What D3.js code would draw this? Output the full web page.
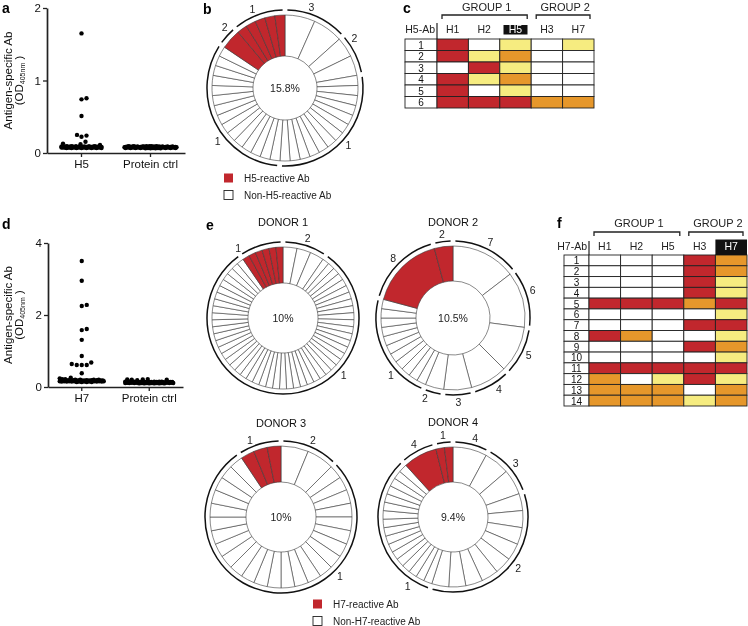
<!DOCTYPE html>
<html><head><meta charset="utf-8">
<script src="https://cdn.jsdelivr.net/npm/d3@7"></script>
<style>
body{margin:0;background:#fff}
svg{display:block;will-change:transform}
text{font-family:"Liberation Sans",Arial,Helvetica,sans-serif;-webkit-font-smoothing:antialiased}
</style>
</head><body>
<svg id="chart" width="748" height="626"></svg>
<script>
// ---------------- DATA ----------------
// panel a: scatter of OD405 values
const panelACats = ["H5", "Protein ctrl"];
const panelAH5 = [1.65, 0.755, 0.74, 0.51, 0.25, 0.24, 0.225, 0.155, 0.13, 0.12, 0.11,
  0.095,0.095,0.095,0.095,0.09,0.09,0.09,0.09,0.09,0.09,0.09,0.09,
  0.085,0.085,0.085,0.085,0.085,0.085,0.085,0.085,0.085,0.085,0.085,0.085,0.085,0.085,
  0.08,0.08,0.08,0.08,0.08,0.08,0.08,0.08,0.08,0.08,0.08,0.08,0.08,0.08,0.08,0.08,
  0.075,0.075,0.075,0.075,0.075,0.075,0.075,0.075,0.075,0.075,0.075,0.075,
  0.07,0.07,0.07,0.07,0.07,0.07,0.07,0.07];
const panelACtrl = [0.095,0.095,0.095,0.095,0.095,0.095,
  0.09,0.09,0.09,0.09,0.09,0.09,0.09,0.09,0.09,0.09,
  0.085,0.085,0.085,0.085,0.085,0.085,0.085,0.085,0.085,0.085,0.085,0.085,0.085,0.085,
  0.08,0.08,0.08,0.08,0.08,0.08,0.08,0.08,0.08,0.08,0.08,0.08,0.08,0.08,0.08,0.08,
  0.075,0.075,0.075,0.075,0.075,0.075,0.075,0.075,0.075,0.075,0.075,0.075,0.075,0.075,
  0.07,0.07,0.07,0.07,0.07,0.07,0.07,0.07,0.07,0.07,0.065,0.065,0.065,0.065];
const panelATicks = [0, 1, 2];

// panel d
const panelDCats = ["H7", "Protein ctrl"];
const panelDH7 = [3.5, 2.95, 2.28, 2.25, 1.61, 1.58, 1.31, 0.86, 0.68, 0.64, 0.61, 0.61, 0.61,
  0.38, 0.26, 0.24, 0.22, 0.22,
  0.20,0.20,0.20,0.20,0.19,0.19,0.19,0.19,0.19,0.19,
  0.18,0.18,0.18,0.18,0.18,0.18,0.18,0.18,0.18,0.18,
  0.17,0.17,0.17,0.17,0.17,0.17,0.17,0.17,0.17,0.17,0.17,0.17,
  0.16,0.16,0.16,0.16,0.16,0.16,0.16,0.16,0.16,0.16,
  0.15,0.15,0.15,0.15,0.15,0.15,0.15,0.15,0.14,0.14,0.14,0.14];
const panelDCtrl = [0.22, 0.21, 0.21, 0.20, 0.20, 0.19,
  0.15,0.15,0.15,0.15,0.15,0.15,0.14,0.14,0.14,0.14,0.14,0.14,0.14,0.14,
  0.13,0.13,0.13,0.13,0.13,0.13,0.13,0.13,0.13,0.13,0.13,0.13,
  0.12,0.12,0.12,0.12,0.12,0.12,0.12,0.12,0.12,0.12,0.12,0.12,
  0.11,0.11,0.11,0.11,0.11,0.11,0.11,0.11,0.11,0.11,
  0.10,0.10,0.10,0.10,0.10,0.10];
const panelDTicks = [0, 2, 4];

// donuts: groups of clones clockwise from 12 o'clock: [clone size, number of clones, reactive]
const donutBGroups  = [[3,2,0],[2,2,0],[1,13,0],[1,15,0],[2,1,1],[1,5,1]];
const donor1Groups  = [[2,3,0],[1,51,0],[1,6,1]];
const donor2Groups  = [[7,1,0],[6,1,0],[5,1,0],[4,1,0],[3,1,0],[2,1,0],[1,11,0],[8,1,1],[2,1,1]];
const donor3Groups  = [[2,2,0],[1,25,0],[1,3,1]];
const donor4Groups  = [[4,1,0],[3,2,0],[2,9,0],[1,17,0],[4,1,1],[1,2,1]];
const donorTitles   = ["DONOR 1", "DONOR 2", "DONOR 3", "DONOR 4"];

// tables: 0 = none, 1 = yellow, 2 = orange, 3 = red
const tableCols   = ["H1", "H2", "H5", "H3", "H7"];
const tableGroups = ["GROUP 1", "GROUP 2"];
const tableCRows  = ["1","2","3","4","5","6"];
const tableCCells = [[3,0,1,0,1],[3,1,2,0,0],[0,3,1,0,0],[3,1,2,0,0],[3,0,1,0,0],[3,3,3,2,2]];
const tableFRows  = ["1","2","3","4","5","6","7","8","9","10","11","12","13","14"];
const tableFCells = [[0,0,0,3,2],[0,0,0,3,2],[0,0,0,3,1],[0,0,0,3,1],[3,3,3,2,3],[0,0,0,0,1],
  [0,0,0,3,3],[3,2,0,0,1],[0,0,0,3,2],[0,0,0,0,1],[3,3,3,3,3],[2,0,1,3,1],[2,2,2,0,2],[2,2,2,1,2]];

// ---------------- STYLE ----------------
const FONT = '"Liberation Sans", Arial, Helvetica, sans-serif';
const RED = "#c1272d", ORANGE = "#e6972b", YELLOW = "#f6ec80";
const cellColors = ["#ffffff", YELLOW, ORANGE, RED];
const svg = d3.select("#chart");

// ---------------- SCATTER ----------------
function swarm(vals, y, cx, r, maxW) {
  const sep = 2 * r + 0.4;
  const order = vals.slice().sort((a, b) => a - b);
  const placed = [];
  order.forEach((v, n) => {
    const py = y(v);
    const minD = x => { let m = Infinity; for (const p of placed) { const d = Math.hypot(p.x - x, p.y - py); if (d < m) m = d; } return m; };
    let px = null;
    const signs = n % 2 ? [1, -1] : [-1, 1];
    for (let k = 0; k <= maxW && px === null; k += 0.5) {
      for (const s of (k === 0 ? [1] : signs)) { const x = cx + s * k; if (minD(x) >= sep) { px = x; break; } }
    }
    if (px === null) {
      let best = -1;
      for (let k = -maxW; k <= maxW; k += 0.5) { const d = minD(cx + k); if (d > best + 1e-9) { best = d; px = cx + k; } }
    }
    placed.push({ x: px, y: py, v });
  });
  return placed;
}

function scatterPanel(cfg) {
  const g = svg.append("g");
  const x = d3.scaleBand().domain(cfg.cats).range([cfg.x0, cfg.x1]).padding(0);
  const y = d3.scaleLinear().domain([0, cfg.ymax]).range([cfg.y0, cfg.y1]);
  const ax = g.append("g").attr("transform", `translate(0,${cfg.y0})`)
    .call(d3.axisBottom(x).tickSize(4).tickSizeOuter(0).tickPadding(3));
  const ay = g.append("g").attr("transform", `translate(${cfg.x0},0)`)
    .call(d3.axisLeft(y).tickValues(cfg.ticks).tickFormat(d3.format("d")).tickSize(4).tickSizeOuter(0).tickPadding(2));
  [ax, ay].forEach(a => {
    a.attr("font-family", FONT).attr("font-size", 11.5);
    a.select(".domain").attr("stroke-width", 1.7).attr("stroke", "#222");
    a.selectAll(".tick line").attr("stroke-width", 1.3).attr("stroke", "#222");
    a.selectAll("text").attr("fill", "#111");
  });
  cfg.series.forEach((vals, i) => {
    const cx = x(cfg.cats[i]) + x.bandwidth() / 2;
    const pts = swarm(vals, y, cx, 2.2, cfg.maxW[i]);
    g.append("g").selectAll("circle").data(pts).join("circle")
      .attr("cx", d => d.x).attr("cy", d => d.y).attr("r", 2.2).attr("fill", "#000");
  });
  const ym = (cfg.y0 + cfg.y1) / 2;
  g.append("text").attr("transform", `translate(8,${ym}) rotate(-90)`)
    .attr("text-anchor", "middle").attr("dominant-baseline", "central")
    .attr("font-size", 11.5).attr("fill", "#111").text("Antigen-specific Ab");
  const t2 = g.append("text").attr("transform", `translate(19,${ym}) rotate(-90)`)
    .attr("text-anchor", "middle").attr("dominant-baseline", "central")
    .attr("font-size", 11.5).attr("fill", "#111");
  t2.append("tspan").text("(OD");
  t2.append("tspan").attr("font-size", 7).attr("dy", 2.5).text("405nm");
  t2.append("tspan").attr("dy", -2.5).text(" )");
}

scatterPanel({ cats: panelACats, series: [panelAH5, panelACtrl], ticks: panelATicks, ymax: 2,
  x0: 47, x1: 185, y0: 153, y1: 8, maxW: [20, 26] });
scatterPanel({ cats: panelDCats, series: [panelDH7, panelDCtrl], ticks: panelDTicks, ymax: 4,
  x0: 48, x1: 183, y0: 387, y1: 243, maxW: [22, 24] });

// ---------------- DONUTS ----------------
function donut(cfg) {
  const g = svg.append("g").attr("transform", `translate(${cfg.cx},${cfg.cy})`);
  const clones = [];
  cfg.groups.forEach((gr, gi) => { for (let k = 0; k < gr[1]; k++) clones.push({ size: gr[0], reactive: gr[2], group: gi }); });
  const pie = d3.pie().value(d => d.size).sort(null).padAngle(0);
  const arcs = pie(clones);
  const arcGen = d3.arc().innerRadius(cfg.ri).outerRadius(cfg.ro);
  g.append("g").selectAll("path").data(arcs).join("path")
    .attr("d", arcGen)
    .attr("fill", d => d.data.reactive ? RED : "#fff")
    .attr("stroke", "#3a3a3a").attr("stroke-width", 0.6);
  const half = 2.4 / cfg.ra;
  cfg.groups.forEach((gr, gi) => {
    const mine = arcs.filter(a => a.data.group === gi);
    const a0 = d3.min(mine, a => a.startAngle), a1 = d3.max(mine, a => a.endAngle);
    const p = d3.path();
    p.arc(0, 0, cfg.ra, a0 + half - Math.PI / 2, a1 - half - Math.PI / 2);
    g.append("path").attr("d", p.toString()).attr("fill", "none").attr("stroke", "#111").attr("stroke-width", 1.5);
    const f = cfg.labelFrac ? cfg.labelFrac[gi] : 0.5;
    const am = a0 + f * (a1 - a0);
    const rl = cfg.ra + 7.5;
    g.append("text").attr("x", rl * Math.sin(am)).attr("y", -rl * Math.cos(am))
      .attr("text-anchor", "middle").attr("dominant-baseline", "central")
      .attr("font-size", 10.5).attr("fill", "#222").text(gr[0]);
  });
  const tot = d3.sum(cfg.groups, d => d[1]);
  const rea = d3.sum(cfg.groups.filter(d => d[2]), d => d[1]);
  const pct = d3.format(".1f")(100 * rea / tot).replace(/\.0$/, "") + "%";
  g.append("text").attr("x", 0).attr("y", 0).attr("text-anchor", "middle").attr("dominant-baseline", "central")
    .attr("font-size", 10.5).attr("fill", "#222").text(pct);
  if (cfg.title) {
    g.append("text").attr("x", 0).attr("y", cfg.titleY).attr("text-anchor", "middle")
      .attr("font-size", 11).attr("fill", "#111").text(cfg.title);
  }
}

donut({ groups: donutBGroups, cx: 285, cy: 88, ri: 32, ro: 73, ra: 78, labelFrac: [.375, .2, .5, .4, .7, .44] });
donut({ groups: donor1Groups, cx: 283, cy: 318, ri: 35, ro: 71, ra: 76, labelFrac: [.5, .34, .05], title: donorTitles[0], titleY: -92 });
donut({ groups: donor2Groups, cx: 453, cy: 318, ri: 37, ro: 72, ra: 77, labelFrac: [.5, .4, .5, .4, .5, .8, .3, .5, .5], title: donorTitles[1], titleY: -92 });
donut({ groups: donor3Groups, cx: 281, cy: 517, ri: 35, ro: 71, ra: 76, labelFrac: [.5, .32, .35], title: donorTitles[2], titleY: -90 });
donut({ groups: donor4Groups, cx: 453, cy: 517, ri: 35, ro: 70, ra: 75, labelFrac: [.55, .5, .45, .13, .5, .5], title: donorTitles[3], titleY: -91 });

// legends
function legend(x, y, labels) {
  const g = svg.append("g");
  labels.forEach((l, i) => {
    g.append("rect").attr("x", x).attr("y", y + i * 17 - 4.5).attr("width", 9).attr("height", 9)
      .attr("fill", i === 0 ? RED : "#fff").attr("stroke", i === 0 ? "none" : "#222").attr("stroke-width", 0.9);
    g.append("text").attr("x", x + 20).attr("y", y + i * 17).attr("dominant-baseline", "central")
      .attr("font-size", 10).attr("fill", "#222").text(l);
  });
}
legend(224, 178, ["H5-reactive Ab", "Non-H5-reactive Ab"]);
legend(313, 604, ["H7-reactive Ab", "Non-H7-reactive Ab"]);

// ---------------- TABLES ----------------
function table(cfg) {
  const g = svg.append("g");
  const x = d3.scaleBand().domain(tableCols).range([cfg.x0, cfg.x1]);
  const y = d3.scaleBand().domain(cfg.rows).range([cfg.y0, cfg.y1]);
  g.append("g").selectAll("rect").data(cfg.rows).join("rect")
    .attr("x", cfg.lx).attr("y", d => y(d)).attr("width", cfg.x0 - cfg.lx).attr("height", y.bandwidth())
    .attr("fill", "#fff").attr("stroke", "#222").attr("stroke-width", 0.9);
  g.append("g").selectAll("text").data(cfg.rows).join("text")
    .attr("x", (cfg.lx + cfg.x0) / 2).attr("y", d => y(d) + y.bandwidth() / 2 + 0.5)
    .attr("text-anchor", "middle").attr("dominant-baseline", "central").attr("font-size", 10).attr("fill", "#111").text(d => d);
  const cells = [];
  cfg.cells.forEach((row, ri) => row.forEach((v, ci) => cells.push({ r: cfg.rows[ri], c: tableCols[ci], v })));
  g.append("g").selectAll("rect").data(cells).join("rect")
    .attr("x", d => x(d.c)).attr("y", d => y(d.r)).attr("width", x.bandwidth()).attr("height", y.bandwidth())
    .attr("fill", d => cellColors[d.v]).attr("stroke", "#222").attr("stroke-width", 0.9);
  const hc = tableCols.map(c => ({ c, hi: c === cfg.highlight }));
  g.append("g").selectAll("rect").data(hc.filter(d => d.hi)).join("rect")
    .attr("x", d => x(d.c) + x.bandwidth() / 2 - cfg.hiW / 2).attr("y", cfg.hiY0)
    .attr("width", cfg.hiW).attr("height", cfg.hiY1 - cfg.hiY0).attr("fill", "#111");
  g.append("g").selectAll("text").data(hc).join("text")
    .attr("x", d => x(d.c) + x.bandwidth() / 2).attr("y", cfg.headY)
    .attr("text-anchor", "middle").attr("font-size", 10.5).attr("fill", d => d.hi ? "#fff" : "#222").text(d => d.c);
  g.append("text").attr("x", cfg.x0 - 2).attr("y", cfg.headY).attr("text-anchor", "end")
    .attr("font-size", 10.5).attr("fill", "#222").text(cfg.rowTitle);
  g.append("line").attr("x1", cfg.x0).attr("x2", cfg.x0).attr("y1", cfg.vY0).attr("y2", cfg.y0)
    .attr("stroke", "#222").attr("stroke-width", 1.2);
  const spans = [[0, 2], [3, 4]];
  spans.forEach((s, i) => {
    const bx0 = x(tableCols[s[0]]) + 5, bx1 = x(tableCols[s[1]]) + x.bandwidth() - 4;
    g.append("path").attr("d", `M${bx0},${cfg.bY + 4}V${cfg.bY}H${bx1}V${cfg.bY + 4}`)
      .attr("fill", "none").attr("stroke", "#222").attr("stroke-width", 1.3);
    g.append("text").attr("x", (bx0 + bx1) / 2 + 2).attr("y", cfg.gY).attr("text-anchor", "middle")
      .attr("font-size", 11).attr("fill", "#222").text(tableGroups[i]);
  });
}
table({ rows: tableCRows, cells: tableCCells, lx: 405, x0: 437, x1: 594, y0: 39, y1: 108,
  highlight: "H5", hiW: 24, hiY0: 25, hiY1: 34.5, headY: 33, rowTitle: "H5-Ab", vY0: 23, bY: 15, gY: 11 });
table({ rows: tableFRows, cells: tableFCells, lx: 564, x0: 589, x1: 747, y0: 255, y1: 406,
  highlight: "H7", hiW: 31.6, hiY0: 239.5, hiY1: 255, headY: 250, rowTitle: "H7-Ab", vY0: 241, bY: 232, gY: 227 });

// ---------------- PANEL LETTERS ----------------
const letters = [["a", 2, 13], ["b", 203, 14], ["c", 403, 13], ["d", 2, 229], ["e", 206, 230], ["f", 557, 228]];
svg.append("g").selectAll("text").data(letters).join("text")
  .attr("x", d => d[1]).attr("y", d => d[2]).attr("font-size", 14).attr("font-weight", "bold").attr("fill", "#000").text(d => d[0]);
</script>
</body></html>
